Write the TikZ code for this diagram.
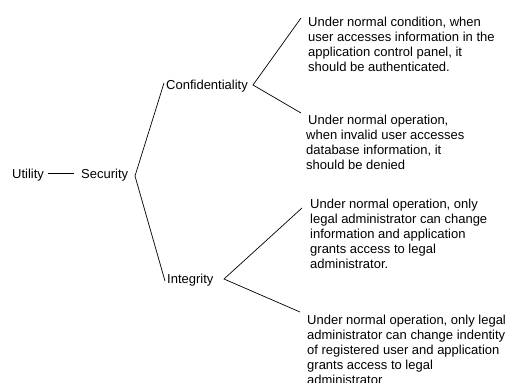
\documentclass[tikz,border=0pt]{standalone}
\usepackage{fontspec}
\setmainfont{Liberation Sans}
\tikzset{
  lbl/.style={inner sep=0pt, anchor=base west, font=\fontsize{13}{15}\selectfont},
  req/.style={inner sep=0pt, anchor=north west, align=left, font=\fontsize{13}{15}\selectfont},
  branch/.style={line width=0.7pt, black}
}
\begin{document}
\begin{tikzpicture}[x=1pt,y=-1pt]
\useasboundingbox (0,0) rectangle (509,383);
% quality attribute tree labels
\node[lbl] (util) at (12,178) {Utility};
\node[lbl] (sec) at (81,178) {Security};
\node[lbl] (conf) at (166,89) {Confidentiality};
\node[lbl] (integ) at (167,283) {Integrity};
% scenarios
\node[req] (s1) at (308,17) {Under normal condition, when\\user accesses information in the\\application control panel, it\\should be authenticated.};
\node[req] (s2) at (306,115) {\hspace*{2pt}Under normal operation,\\when invalid user accesses\\database information, it\\should be denied};
\node[req] (s3) at (310,199) {Under normal operation, only\\legal administrator can change\\information and application\\grants access to legal\\administrator.};
\node[req] (s4) at (307,315) {Under normal operation, only legal\\administrator can change indentity\\of registered user and application\\grants access to legal\\administrator};
% branch points and line ends
\coordinate (utilR) at (48,173);
\coordinate (secL) at (74,173);
\coordinate (secfork) at (135,176);
\coordinate (confL) at (164,83);
\coordinate (integL) at (165,281);
\coordinate (conffork) at (253,85);
\coordinate (s1L) at (301,18);
\coordinate (s2L) at (301,113);
\coordinate (integfork) at (224,279);
\coordinate (s3L) at (302,208);
\coordinate (s4L) at (300,312);
% connectors
\draw[branch] (utilR) -- (secL);
\draw[branch] (confL) -- (secfork) -- (integL);
\draw[branch] (s1L) -- (conffork) -- (s2L);
\draw[branch] (s3L) -- (integfork) -- (s4L);
\end{tikzpicture}
\end{document}
